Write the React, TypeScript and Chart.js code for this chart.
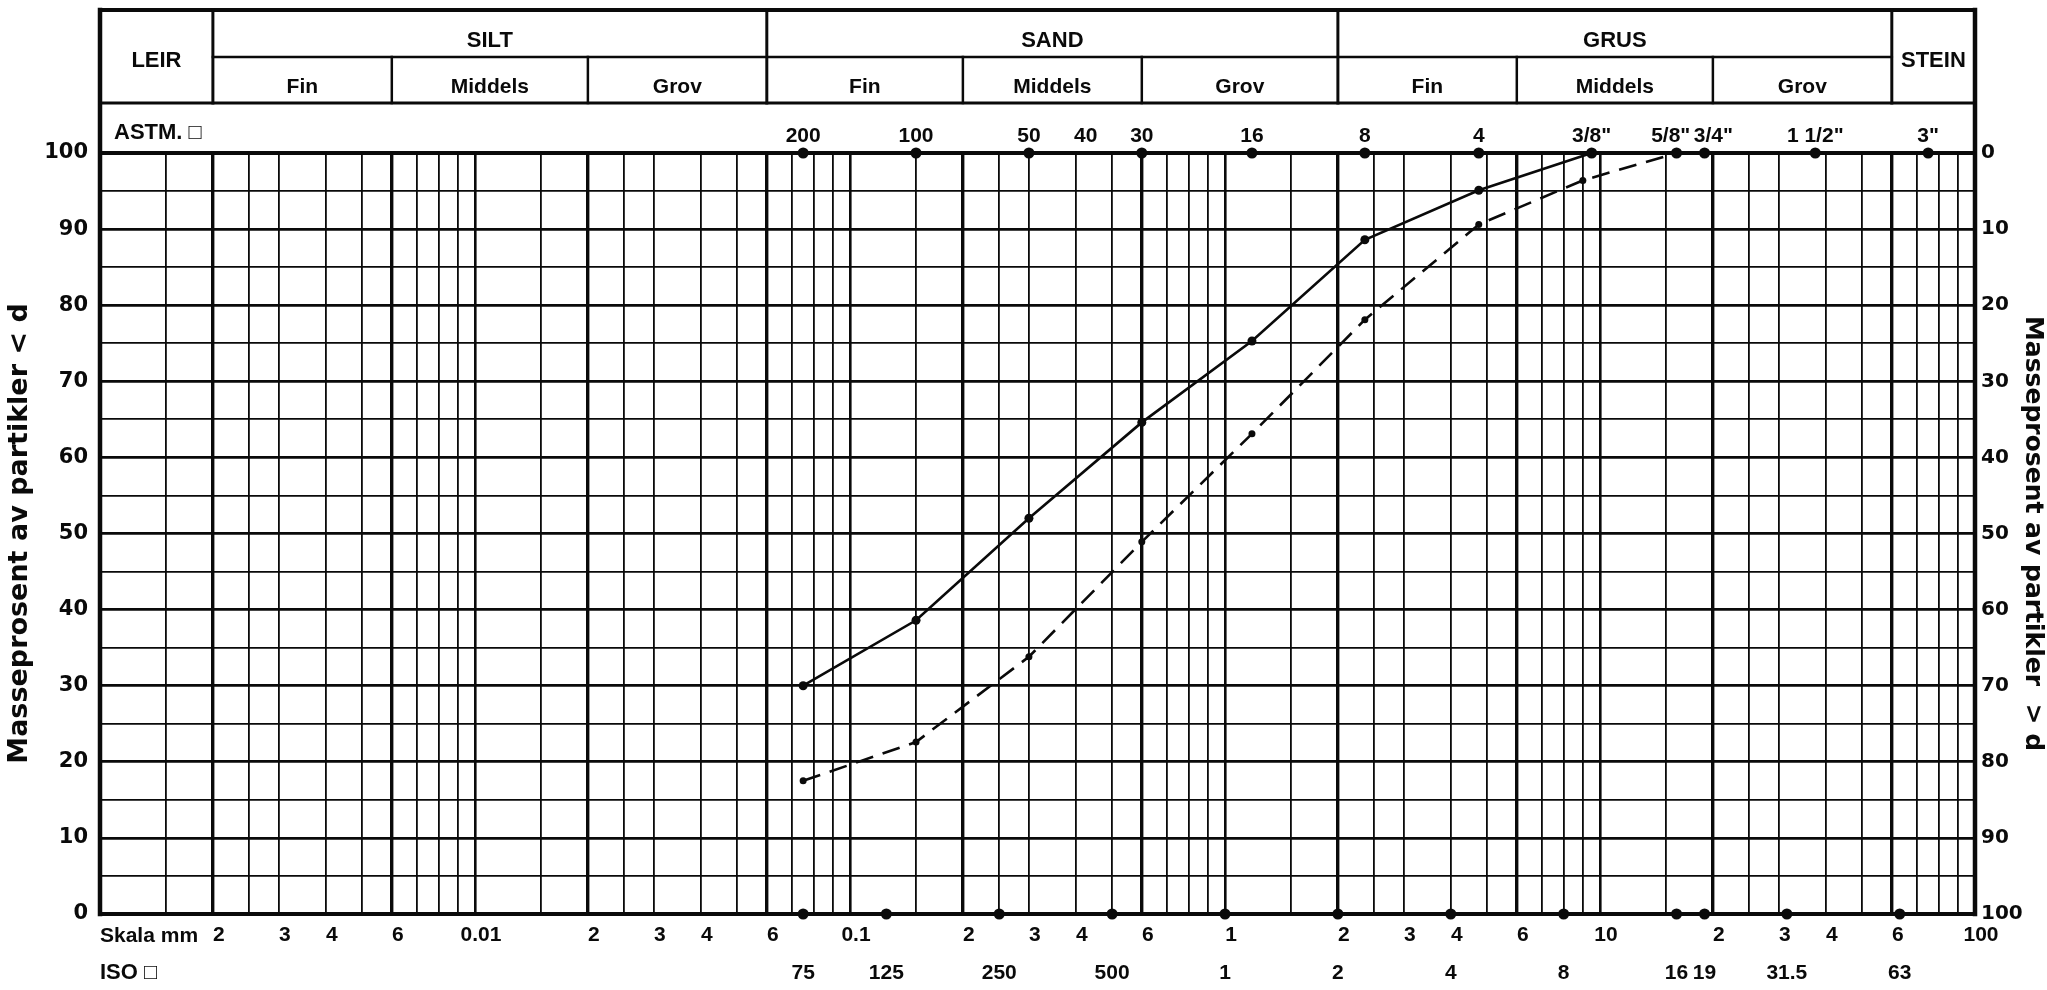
import React, { useEffect, useRef } from 'react';
import { Chart, registerables } from 'chart.js';

Chart.register(...registerables);

// ---------- data ----------
const X_MIN = 0.001;
const X_MAX = 100;

// Solid curve: sieve size (mm) and mass percent passing
const SOLID_SIZES = [0.075, 0.15, 0.3, 0.6, 1.18, 2.36, 4.75, 9.5];
const SOLID_PASSING = [30, 38.6, 52, 64.6, 75.3, 88.6, 95.1, 100];

// Dashed curve
const DASHED_SIZES = [0.075, 0.15, 0.3, 0.6, 1.18, 2.36, 4.75, 9.0, 16];
const DASHED_PASSING = [17.5, 22.6, 33.8, 48.9, 63.1, 78.1, 90.6, 96.4, 100];

// ASTM sieves (top row)
const ASTM_SIZES = [0.075, 0.15, 0.3, 0.425, 0.6, 1.18, 2.36, 4.75, 9.5, 16, 19, 37.5, 75];
const ASTM_LABELS = ['200', '100', '50', '40', '30', '16', '8', '4', '3/8"', '5/8"\u00a0\u00a0', '\u00a0\u00a0\u00a03/4"', '1 1/2"', '3"'];
const ASTM_MARKED = [0.075, 0.15, 0.3, 0.6, 1.18, 2.36, 4.75, 9.5, 16, 19, 37.5, 75];

// ISO sieves (bottom row)
const ISO_SIZES = [0.075, 0.125, 0.25, 0.5, 1, 2, 4, 8, 16, 19, 31.5, 63];
const ISO_LABELS = ['75', '125', '250', '500', '1', '2', '4', '8', '16', '19', '31.5', '63'];

// "Skala mm" tick labels
const SKALA_TICKS = [0.002, 0.003, 0.004, 0.006, 0.01, 0.02, 0.03, 0.04, 0.06, 0.1, 0.2, 0.3, 0.4, 0.6, 1, 2, 3, 4, 6, 10, 20, 30, 40, 60, 100];
const SKALA_LABELS = ['2', '3', '4', '6', '0.01', '2', '3', '4', '6', '0.1', '2', '3', '4', '6', '1', '2', '3', '4', '6', '10', '2', '3', '4', '6', '100'];

// Log grid
const GRID_DECADES = [0.001, 0.01, 0.1, 1, 10];
const GRID_MANTISSAS = [1, 1.5, 2, 2.5, 3, 4, 5, 6, 7, 8, 9];
const GRID_VALUES = [...GRID_DECADES.flatMap((d) => GRID_MANTISSAS.map((m) => d * m)), X_MAX];
const CLASS_LINES = [0.002, 0.006, 0.02, 0.06, 0.2, 0.6, 2, 6, 20, 60];
const DECADE_LINES = [0.01, 0.1, 1, 10];

// Classification header
const MAIN_CLASSES = ['LEIR', 'SILT', 'SAND', 'GRUS', 'STEIN'];
const MAIN_BOUNDS = [0.001, 0.002, 0.06, 2, 60, 100];
const SUB_CLASSES = ['Fin', 'Middels', 'Grov', 'Fin', 'Middels', 'Grov', 'Fin', 'Middels', 'Grov'];
const SUB_BOUNDS = [0.002, 0.006, 0.02, 0.06, 0.2, 0.6, 2, 6, 20, 60];

const LEFT_TITLE = 'Masseprosent av partikler < d';
const RIGHT_TITLE = 'Masseprosent av partikler  > d';

// ---------- layout / style ----------
const W = 2047;
const H = 990;
const HEADER_TOP = 10;
const HEADER_MID = 57;
const HEADER_BOTTOM = 103;
const INK = '#0a0a0a';
const SANS = '"Liberation Sans", Arial, "DejaVu Sans", sans-serif';
const WIDE = '"DejaVu Sans", "Liberation Sans", sans-serif';

const same = (a: number, b: number) => Math.abs(Math.log10(a / b)) < 1e-6;

const formPlugin = {
  id: 'gradationForm',
  beforeDraw(chart: any) {
    const { ctx } = chart;
    ctx.save();
    ctx.fillStyle = '#fff';
    ctx.fillRect(0, 0, chart.width, chart.height);
    ctx.restore();
  },
  afterDraw(chart: any) {
    const { ctx, chartArea } = chart;
    const xs = chart.scales.x;
    const px = (v: number) => xs.getPixelForValue(v);
    const L = chartArea.left;
    const R = chartArea.right;
    const T = chartArea.top;
    const B = chartArea.bottom;
    const seg = (x1: number, y1: number, x2: number, y2: number, w: number) => {
      ctx.lineWidth = w;
      ctx.beginPath();
      ctx.moveTo(x1, y1);
      ctx.lineTo(x2, y2);
      ctx.stroke();
    };
    ctx.save();
    ctx.strokeStyle = INK;
    ctx.fillStyle = INK;
    ctx.lineCap = 'square';
    // frame
    seg(L, HEADER_TOP, R, HEADER_TOP, 4);
    seg(L, HEADER_TOP, L, B, 4.5);
    seg(R, HEADER_TOP, R, B, 4.5);
    seg(L, B, R, B, 4);
    seg(L, T, R, T, 4);
    seg(L, HEADER_BOTTOM, R, HEADER_BOTTOM, 3);
    seg(px(MAIN_BOUNDS[1]), HEADER_MID, px(MAIN_BOUNDS[4]), HEADER_MID, 2.5);
    MAIN_BOUNDS.slice(1, -1).forEach((b) => seg(px(b), HEADER_TOP, px(b), HEADER_BOTTOM, 3));
    SUB_BOUNDS.forEach((b) => {
      if (!MAIN_BOUNDS.some((m) => same(m, b))) seg(px(b), HEADER_MID, px(b), HEADER_BOTTOM, 2.5);
    });
    // header texts
    ctx.textAlign = 'center';
    ctx.textBaseline = 'middle';
    ctx.font = `bold 22px ${SANS}`;
    MAIN_CLASSES.forEach((name, i) => {
      const cx = (px(MAIN_BOUNDS[i]) + px(MAIN_BOUNDS[i + 1])) / 2;
      const full = i === 0 || i === MAIN_CLASSES.length - 1;
      ctx.fillText(name, cx, full ? 61 : 41);
    });
    ctx.font = `bold 21px ${SANS}`;
    SUB_CLASSES.forEach((name, i) => {
      const cx = (px(SUB_BOUNDS[i]) + px(SUB_BOUNDS[i + 1])) / 2;
      ctx.fillText(name, cx, 87);
    });
    // row captions
    ctx.textAlign = 'left';
    ctx.font = `bold 22px ${SANS}`;
    ctx.fillText('ASTM. \u25A1', L + 14, (HEADER_BOTTOM + T) / 2 + 5);
    ctx.font = `bold 21px ${SANS}`;
    const xb = chart.scales.x;
    const xi = chart.scales.xIso;
    ctx.fillText('Skala mm', L, xb.top + 22);
    ctx.font = `bold 22px ${SANS}`;
    ctx.fillText('ISO \u25A1', L, xi.top + 19);
    ctx.restore();
  },
};

function App() {
  const ref = useRef<HTMLCanvasElement>(null);

  useEffect(() => {
    document.body.style.margin = '0';
    const canvas = ref.current;
    if (!canvas) return;

    const lineFont = { family: SANS, size: 21, weight: 'bold' as const };

    const chart = new Chart(canvas, {
      type: 'scatter',
      data: {
        datasets: [
          {
            label: 'Prøve 1',
            data: SOLID_SIZES.map((x, i) => ({ x, y: SOLID_PASSING[i] })),
            showLine: true,
            borderColor: INK,
            backgroundColor: INK,
            borderWidth: 2.6,
            pointRadius: 4.5,
            pointBackgroundColor: INK,
            pointBorderWidth: 0,
            tension: 0,
            clip: false,
          },
          {
            label: 'Prøve 2',
            data: DASHED_SIZES.map((x, i) => ({ x, y: DASHED_PASSING[i] })),
            showLine: true,
            borderColor: INK,
            backgroundColor: INK,
            borderWidth: 2.6,
            borderDash: [18, 10],
            pointRadius: 3.5,
            pointBackgroundColor: INK,
            pointBorderWidth: 0,
            tension: 0,
            clip: false,
          },
          {
            label: 'ASTM',
            data: ASTM_MARKED.map((x) => ({ x, y: 100 })),
            showLine: false,
            pointRadius: 5.5,
            pointBackgroundColor: INK,
            pointBorderWidth: 0,
            clip: false,
          },
          {
            label: 'ISO',
            data: ISO_SIZES.map((x) => ({ x, y: 0 })),
            showLine: false,
            pointRadius: 5.5,
            pointBackgroundColor: INK,
            pointBorderWidth: 0,
            clip: false,
          },
        ],
      },
      options: {
        animation: false,
        responsive: false,
        maintainAspectRatio: false,
        events: [],
        layout: { padding: { top: HEADER_BOTTOM, left: 0, right: 0, bottom: 0 } },
        plugins: {
          legend: { display: false },
          tooltip: { enabled: false },
          title: { display: false },
        },
        scales: {
          x: {
            type: 'logarithmic',
            position: 'bottom',
            min: X_MIN,
            max: X_MAX,
            afterBuildTicks: (scale: any) => {
              scale.ticks = GRID_VALUES.map((v) => ({ value: v }));
            },
            afterFit: (scale: any) => {
              scale.height = 40;
            },
            ticks: {
              autoSkip: false,
              maxRotation: 0,
              minRotation: 0,
              padding: 9,
              labelOffset: 6,
              color: INK,
              font: lineFont,
              callback: (v: any) => {
                const idx = SKALA_TICKS.findIndex((t) => same(t, Number(v)));
                return idx >= 0 ? SKALA_LABELS[idx] : '';
              },
            },
            grid: {
              color: INK,
              drawTicks: false,
              lineWidth: (ctx: any) => {
                const v = ctx.tick ? ctx.tick.value : 0;
                if (CLASS_LINES.some((c) => same(c, v))) return 3.4;
                if (DECADE_LINES.some((c) => same(c, v))) return 2.6;
                return 1.8;
              },
            },
            border: { display: false },
          },
          xIso: {
            type: 'logarithmic',
            position: 'bottom',
            min: X_MIN,
            max: X_MAX,
            afterBuildTicks: (scale: any) => {
              scale.ticks = ISO_SIZES.map((v) => ({ value: v }));
            },
            afterFit: (scale: any) => {
              scale.height = 36;
            },
            ticks: {
              autoSkip: false,
              maxRotation: 0,
              minRotation: 0,
              padding: 7,
              color: INK,
              font: lineFont,
              callback: (v: any) => {
                const idx = ISO_SIZES.findIndex((t) => same(t, Number(v)));
                return idx >= 0 ? ISO_LABELS[idx] : '';
              },
            },
            grid: { display: false, drawTicks: false },
            border: { display: false },
          },
          xAstm: {
            type: 'logarithmic',
            position: 'top',
            min: X_MIN,
            max: X_MAX,
            afterBuildTicks: (scale: any) => {
              scale.ticks = ASTM_SIZES.map((v) => ({ value: v }));
            },
            afterFit: (scale: any) => {
              scale.height = 50;
            },
            ticks: {
              autoSkip: false,
              maxRotation: 0,
              minRotation: 0,
              padding: 4,
              color: INK,
              font: lineFont,
              callback: (v: any) => {
                const idx = ASTM_SIZES.findIndex((t) => same(t, Number(v)));
                return idx >= 0 ? ASTM_LABELS[idx] : '';
              },
            },
            grid: { display: false, drawTicks: false },
            border: { display: false },
          },
          y: {
            type: 'linear',
            position: 'left',
            min: 0,
            max: 100,
            afterFit: (scale: any) => {
              scale.width = 100;
            },
            ticks: {
              stepSize: 5,
              autoSkip: false,
              padding: 12,
              color: INK,
              font: { family: WIDE, size: 21, weight: 'bold' as const },
              callback: (v: any) => (Number(v) % 10 === 0 ? String(v) : ''),
            },
            grid: {
              color: INK,
              drawTicks: false,
              lineWidth: (ctx: any) => {
                const v = ctx.tick ? ctx.tick.value : 0;
                return v % 10 === 0 ? 2.8 : 1.8;
              },
            },
            border: { display: false },
            title: {
              display: true,
              text: LEFT_TITLE,
              color: INK,
              font: { family: WIDE, size: 27, weight: 'bold' as const },
              padding: { top: 4, bottom: 0 },
            },
          },
          y2: {
            type: 'linear',
            position: 'right',
            min: 0,
            max: 100,
            reverse: true,
            afterFit: (scale: any) => {
              scale.width = 72;
            },
            ticks: {
              stepSize: 10,
              autoSkip: false,
              padding: 6,
              color: INK,
              font: { family: WIDE, size: 20, weight: 'bold' as const },
            },
            grid: { display: false, drawTicks: false },
            border: { display: false },
            title: {
              display: true,
              text: RIGHT_TITLE,
              color: INK,
              font: { family: WIDE, size: 25, weight: 'bold' as const },
              padding: { top: 0, bottom: 0 },
            },
          },
        },
      } as any,
      plugins: [formPlugin],
    });

    return () => chart.destroy();
  }, []);

  return (
    <div style={{ position: 'absolute', left: 0, top: 0, width: W, height: H, background: '#fff' }}>
      <canvas ref={ref} width={W} height={H} style={{ width: W, height: H, display: 'block' }} />
    </div>
  );
}

export default App;
